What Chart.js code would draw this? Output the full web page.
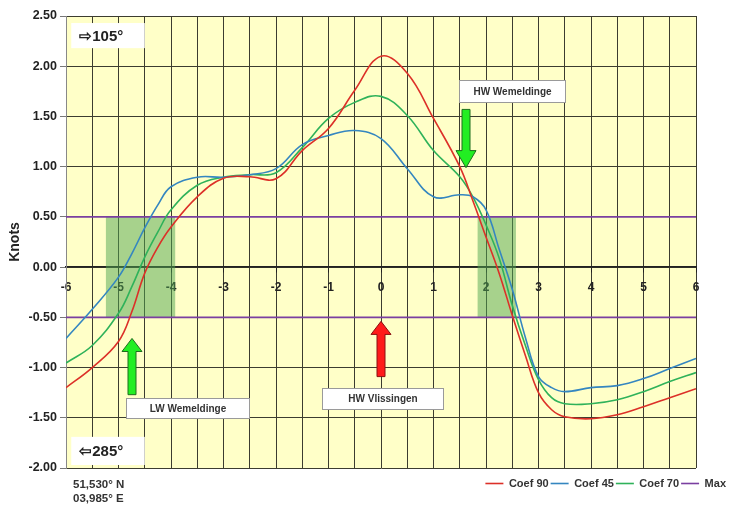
<!DOCTYPE html>
<html>
<head>
<meta charset="utf-8">
<title>Stroom Wemeldinge</title>
<script src="https://cdn.jsdelivr.net/npm/chart.js@4.4.0/dist/chart.umd.min.js"></script>
<style>
  html, body { margin: 0; padding: 0; background: #fff; }
  #wrap { width: 733px; height: 506px; }
</style>
</head>
<body>
<div id="wrap"><canvas id="chart" width="733" height="506"></canvas></div>
<script>
// hours relative to HW Vlissingen
const hours  = [-6, -5.5, -5, -4.75, -4.5, -4.25, -4, -3.5, -3, -2.5, -2, -1.5, -1, -0.5, 0, 0.5, 1, 1.5, 1.75, 2, 2.25, 2.5, 2.75, 3, 3.25, 3.5, 4, 4.5, 5, 5.5, 6];
const coef90 = [-1.20, -1.00, -0.74, -0.45, -0.06, 0.20, 0.40, 0.70, 0.885, 0.90, 0.88, 1.16, 1.38, 1.76, 2.10, 1.93, 1.48, 1.00, 0.66, 0.30, -0.06, -0.48, -0.88, -1.25, -1.42, -1.49, -1.51, -1.47, -1.39, -1.30, -1.21];
const coef45 = [-0.71, -0.42, -0.10, 0.13, 0.39, 0.62, 0.80, 0.895, 0.895, 0.92, 0.98, 1.22, 1.31, 1.36, 1.28, 0.98, 0.70, 0.72, 0.70, 0.57, 0.18, -0.22, -0.70, -1.09, -1.20, -1.24, -1.20, -1.18, -1.11, -1.01, -0.91];
const coef70 = [-0.955, -0.78, -0.46, -0.20, 0.10, 0.35, 0.57, 0.815, 0.895, 0.92, 0.94, 1.19, 1.48, 1.64, 1.70, 1.51, 1.16, 0.90, 0.70, 0.42, 0.09, -0.38, -0.78, -1.12, -1.30, -1.36, -1.36, -1.32, -1.24, -1.14, -1.05];
const maxLevel = 0.5;

// slack water windows (hours)
const slackWindows = [[-5.24, -3.92], [1.84, 2.57]];

// labels: [text, x from, x to, y top, y bottom]
const labelBoxes = [
  ['LW Wemeldinge', -4.86, -2.51, -1.30, -1.50],
  ['HW Wemeldinge', 1.49, 3.50, 1.86, 1.64],
  ['HW Vlissingen', -1.12, 1.18, -1.20, -1.41]
];
const bearingBoxes = [
  ['\u21E8105\u00B0', -5.9, -4.5, 2.43, 2.18],
  ['\u21E6285\u00B0', -5.9, -4.5, -1.69, -1.97]
];
// arrows: [x, tip, head base, tail, fill, edge]
const arrows = [
  [0, -0.54, -0.67, -1.09, '#ff1a1a', '#8a1010'],
  [-4.74, -0.71, -0.84, -1.27, '#22ee22', '#1d6e1d'],
  [1.61, 0.99, 1.16, 1.57, '#22ee22', '#1d6e1d']
];

const font = '"Liberation Sans", Arial, sans-serif';

function curve(label, values, color) {
  return {
    label: label,
    data: hours.map((h, i) => ({ x: h, y: values[i] })),
    borderColor: color,
    backgroundColor: color,
    borderWidth: 1.6,
    pointRadius: 0,
    tension: 0.4,
    fill: false
  };
}

function maxLine(level) {
  return {
    label: 'Max',
    data: [{ x: hours[0], y: level }, { x: hours[hours.length - 1], y: level }],
    borderColor: '#7a3fa0',
    backgroundColor: '#7a3fa0',
    borderWidth: 1.6,
    pointRadius: 0
  };
}

function drawArrow(ctx, cx, tip, head, tail, fill, edge) {
  const hw = 10, sw = 4;
  ctx.beginPath();
  ctx.moveTo(cx, tip);
  ctx.lineTo(cx + hw, head);
  ctx.lineTo(cx + sw, head);
  ctx.lineTo(cx + sw, tail);
  ctx.lineTo(cx - sw, tail);
  ctx.lineTo(cx - sw, head);
  ctx.lineTo(cx - hw, head);
  ctx.closePath();
  ctx.fillStyle = fill;
  ctx.fill();
  ctx.strokeStyle = edge;
  ctx.lineWidth = 1;
  ctx.stroke();
}

const decor = {
  id: 'decor',
  beforeDraw(chart) {
    const { ctx, chartArea: a } = chart;
    ctx.save();
    ctx.fillStyle = '#ffffc8';
    ctx.fillRect(a.left, a.top, a.right - a.left, a.bottom - a.top);
    ctx.restore();
  },
  beforeDatasetsDraw(chart) {
    const { ctx, scales: { x, y } } = chart;
    ctx.save();
    ctx.fillStyle = 'rgba(80,165,80,0.5)';
    slackWindows.forEach(([from, to]) => {
      const x0 = x.getPixelForValue(from), x1 = x.getPixelForValue(to);
      const y0 = y.getPixelForValue(maxLevel), y1 = y.getPixelForValue(-maxLevel);
      ctx.fillRect(x0, y0, x1 - x0, y1 - y0);
    });
    ctx.restore();
  },
  afterDatasetsDraw(chart) {
    const { ctx, scales: { x, y } } = chart;
    ctx.save();
    arrows.forEach(([h, tip, head, tail, fill, edge]) => {
      drawArrow(ctx, Math.round(x.getPixelForValue(h)), y.getPixelForValue(tip),
        y.getPixelForValue(head), y.getPixelForValue(tail), fill, edge);
    });

    ctx.textAlign = 'center';
    ctx.textBaseline = 'middle';
    labelBoxes.forEach(([text, x0, x1, y0, y1]) => {
      const l = Math.round(x.getPixelForValue(x0)) + 0.5, r = Math.round(x.getPixelForValue(x1)) + 0.5;
      const t = Math.round(y.getPixelForValue(y0)) + 0.5, b = Math.round(y.getPixelForValue(y1)) + 0.5;
      ctx.fillStyle = '#fff';
      ctx.fillRect(l, t, r - l, b - t);
      ctx.strokeStyle = '#9a9a9a';
      ctx.lineWidth = 1;
      ctx.strokeRect(l, t, r - l, b - t);
      ctx.fillStyle = '#333';
      ctx.font = 'bold 10px ' + font;
      ctx.fillText(text, (l + r) / 2, (t + b) / 2 + 0.5);
    });

    ctx.textAlign = 'left';
    bearingBoxes.forEach(([text, x0, x1, y0, y1]) => {
      const l = x.getPixelForValue(x0), r = x.getPixelForValue(x1);
      const t = y.getPixelForValue(y0), b = y.getPixelForValue(y1);
      ctx.fillStyle = '#fff';
      ctx.fillRect(l, t, r - l, b - t);
      ctx.fillStyle = '#222';
      ctx.font = 'bold 15px ' + font;
      ctx.fillText(text, l + 8, (t + b) / 2 + 1);
    });
    ctx.restore();
  },
  afterDraw(chart) {
    const { ctx, chartArea: a } = chart;
    ctx.save();
    ctx.fillStyle = '#333';
    ctx.font = 'bold 11.5px ' + font;
    ctx.textBaseline = 'middle';
    ctx.fillText('51,530\u00B0 N', a.left + 7, a.bottom + 17);
    ctx.fillText('03,985\u00B0 E', a.left + 7, a.bottom + 31);
    ctx.restore();
  }
};

new Chart(document.getElementById('chart'), {
  type: 'line',
  data: {
    datasets: [
      curve('Coef 90', coef90, '#dc3028'),
      curve('Coef 45', coef45, '#3486c0'),
      curve('Coef 70', coef70, '#2fb25a'),
      maxLine(maxLevel),
      maxLine(-maxLevel)
    ]
  },
  options: {
    responsive: false,
    animation: false,
    layout: { padding: { top: 16, right: 5, bottom: 7, left: 0 } },
    plugins: {
      tooltip: { enabled: false },
      legend: {
        position: 'bottom',
        align: 'end',
        labels: {
          usePointStyle: true,
          pointStyle: 'line',
          pointStyleWidth: 18,
          padding: 2,
          color: '#333',
          font: { family: font, size: 11, weight: 'bold' },
          filter: item => item.datasetIndex < 4
        }
      }
    },
    scales: {
      x: {
        type: 'linear',
        position: { y: 0 },
        min: -6,
        max: 6,
        ticks: {
          stepSize: 0.5,
          autoSkip: false,
          maxRotation: 0,
          padding: 8,
          color: '#222',
          font: { family: font, size: 12, weight: 'bold' },
          callback: v => Number.isInteger(v) ? String(v) : ''
        },
        grid: {
          color: '#3c3c30',
          lineWidth: 1,
          tickLength: 5,
          tickColor: c => (c.tick && Number.isInteger(c.tick.value)) ? '#222' : 'rgba(0,0,0,0)'
        },
        border: { color: '#222', width: 1.5 },
        afterFit: s => { s.height = 0; }
      },
      x2: {
        axis: 'x',
        type: 'linear',
        position: 'bottom',
        min: -6,
        max: 6,
        ticks: { display: false },
        grid: { display: false },
        border: { display: false },
        afterFit: s => { s.height = 8; }
      },
      y: {
        min: -2,
        max: 2.5,
        ticks: {
          stepSize: 0.5,
          color: '#222',
          font: { family: font, size: 12.5, weight: 'bold' },
          callback: v => v.toFixed(2)
        },
        grid: { color: '#3c3c30', lineWidth: 1, tickLength: 6, tickColor: '#777' },
        border: { color: '#888' },
        title: {
          display: true,
          text: 'Knots',
          color: '#222',
          padding: { top: 7, bottom: 4 },
          font: { family: font, size: 14, weight: 'bold' }
        },
        afterFit: s => { s.width = 66; }
      },
      y2: {
        axis: 'y',
        position: 'right',
        min: -2,
        max: 2.5,
        ticks: { display: false },
        grid: { display: false },
        border: { display: false },
        afterFit: s => { s.width = 32; }
      }
    }
  },
  plugins: [decor]
});
</script>
</body>
</html>
